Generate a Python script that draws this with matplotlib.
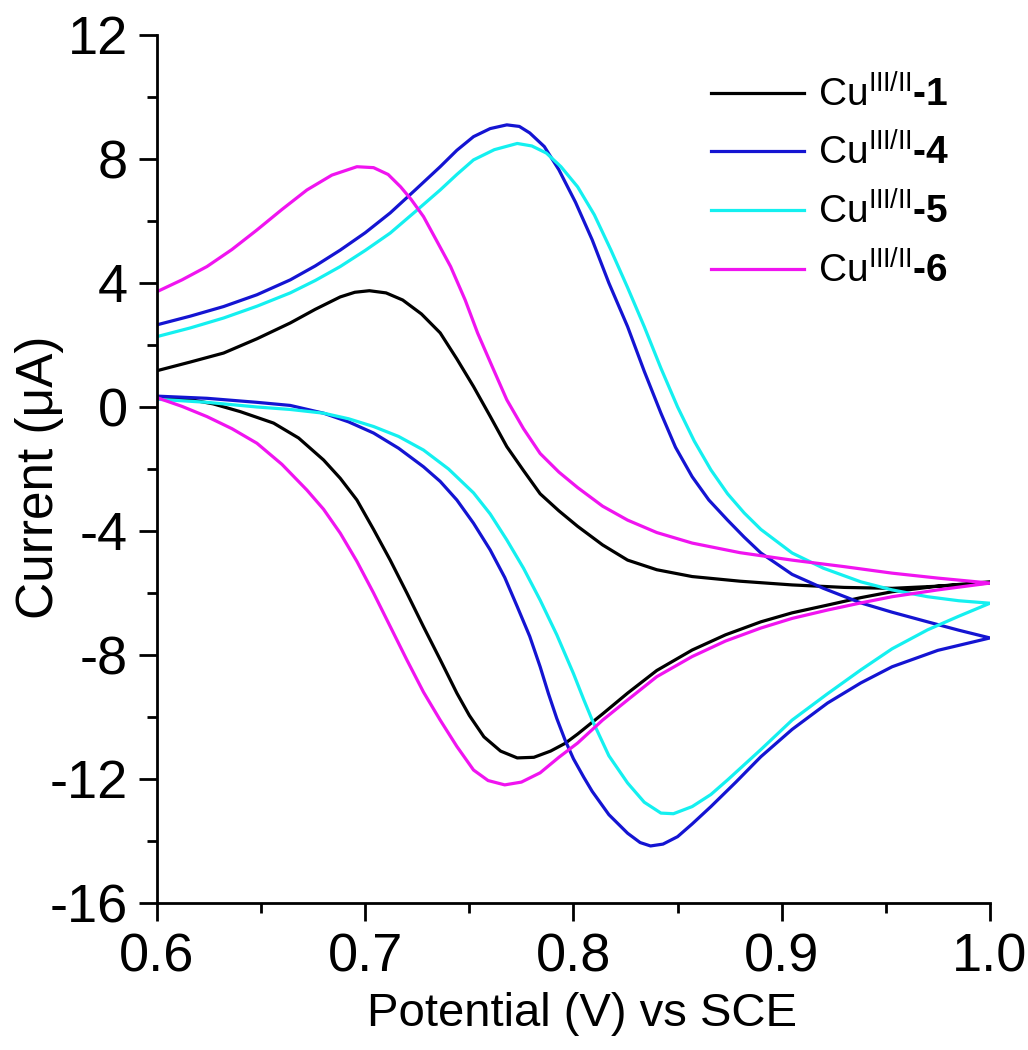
import matplotlib.pyplot as plt
from matplotlib.ticker import MultipleLocator

plt.rcParams["font.family"] = ["Liberation Sans", "DejaVu Sans"]
plt.rcParams["mathtext.fontset"] = "custom"
plt.rcParams["mathtext.rm"] = "Liberation Sans"
plt.rcParams["mathtext.bf"] = "Liberation Sans:bold"
plt.rcParams["axes.unicode_minus"] = False

# potential (V vs SCE) and current (uA)
# each CV: lower branch 0.6 -> 1.0, then upper branch 1.0 -> 0.6

# Cu(III/II)-1
v1_low = [0.600, 0.615, 0.627, 0.640, 0.656, 0.668, 0.680, 0.688, 0.696, 0.704,
          0.712, 0.720, 0.728, 0.736, 0.744, 0.750, 0.757, 0.765, 0.773, 0.781,
          0.789, 0.796, 0.802, 0.814, 0.826, 0.840, 0.857, 0.873, 0.890, 0.905,
          0.922, 0.938, 0.953, 0.975, 1.000]
i1_low = [0.30, 0.25, 0.10, -0.15, -0.52, -1.00, -1.71, -2.30, -3.00, -3.95,
          -4.94, -6.00, -7.09, -8.15, -9.23, -9.95, -10.64, -11.10, -11.32, -11.30,
          -11.10, -10.85, -10.55, -9.90, -9.23, -8.50, -7.84, -7.35, -6.93, -6.64,
          -6.39, -6.15, -5.96, -5.78, -5.64]
v1_up = [1.000, 0.975, 0.953, 0.930, 0.905, 0.880, 0.857, 0.840, 0.826, 0.814,
         0.802, 0.793, 0.784, 0.776, 0.768, 0.760, 0.752, 0.744, 0.736, 0.727,
         0.718, 0.710, 0.702, 0.695, 0.688, 0.676, 0.664, 0.648, 0.632, 0.616,
         0.600]
i1_up = [-5.68, -5.78, -5.85, -5.82, -5.74, -5.62, -5.47, -5.25, -4.94, -4.45,
         -3.85, -3.35, -2.80, -2.05, -1.28, -0.30, 0.66, 1.55, 2.39, 3.00,
         3.45, 3.68, 3.75, 3.70, 3.55, 3.15, 2.71, 2.20, 1.74, 1.45,
         1.17]

# Cu(III/II)-4
v4_low = [0.600, 0.624, 0.648, 0.664, 0.680, 0.692, 0.704, 0.716, 0.728, 0.736,
          0.744, 0.752, 0.760, 0.767, 0.773, 0.779, 0.784, 0.788, 0.792, 0.796,
          0.800, 0.805, 0.809, 0.817, 0.826, 0.832, 0.837, 0.843, 0.850, 0.857,
          0.866, 0.878, 0.890, 0.905, 0.922, 0.938, 0.953, 0.975, 1.000]
i4_low = [0.35, 0.28, 0.15, 0.05, -0.20, -0.48, -0.84, -1.33, -1.93, -2.40,
          -3.00, -3.75, -4.61, -5.50, -6.44, -7.40, -8.38, -9.25, -10.05, -10.75,
          -11.35, -11.95, -12.40, -13.15, -13.75, -14.05, -14.16, -14.10, -13.86, -13.45,
          -12.89, -12.10, -11.28, -10.40, -9.55, -8.90, -8.38, -7.85, -7.45]
v4_up = [1.000, 0.985, 0.970, 0.953, 0.938, 0.920, 0.905, 0.890, 0.882, 0.874,
         0.865, 0.857, 0.849, 0.842, 0.834, 0.826, 0.817, 0.809, 0.801, 0.793,
         0.786, 0.779, 0.774, 0.768, 0.760, 0.752, 0.744, 0.736, 0.724, 0.712,
         0.700, 0.688, 0.676, 0.664, 0.648, 0.632, 0.616, 0.600]
i4_up = [-7.45, -7.20, -6.93, -6.62, -6.32, -5.85, -5.40, -4.71, -4.20, -3.65,
         -3.00, -2.25, -1.30, -0.20, 1.15, 2.59, 4.00, 5.39, 6.60, 7.65,
         8.40, 8.84, 9.05, 9.10, 8.98, 8.72, 8.28, 7.75, 7.00, 6.26,
         5.62, 5.06, 4.55, 4.10, 3.62, 3.24, 2.93, 2.65]

# Cu(III/II)-5
v5_low = [0.600, 0.624, 0.648, 0.664, 0.680, 0.692, 0.704, 0.716, 0.728, 0.740,
          0.752, 0.760, 0.768, 0.776, 0.784, 0.792, 0.800, 0.805, 0.809, 0.817,
          0.826, 0.834, 0.842, 0.848, 0.857, 0.866, 0.874, 0.890, 0.905, 0.922,
          0.938, 0.953, 0.970, 0.985, 1.000]
i5_low = [0.25, 0.15, 0.00, -0.08, -0.20, -0.38, -0.63, -0.95, -1.39, -2.00,
          -2.77, -3.45, -4.29, -5.20, -6.23, -7.35, -8.60, -9.45, -10.10, -11.25,
          -12.13, -12.75, -13.10, -13.12, -12.89, -12.50, -12.03, -11.05, -10.10, -9.25,
          -8.48, -7.80, -7.19, -6.75, -6.33]
v5_up = [1.000, 0.985, 0.970, 0.953, 0.938, 0.920, 0.905, 0.890, 0.882, 0.874,
         0.866, 0.858, 0.850, 0.842, 0.834, 0.826, 0.818, 0.810, 0.802, 0.794,
         0.787, 0.780, 0.773, 0.762, 0.752, 0.744, 0.736, 0.724, 0.712, 0.700,
         0.688, 0.676, 0.664, 0.648, 0.632, 0.616, 0.600]
i5_up = [-6.33, -6.25, -6.12, -5.90, -5.64, -5.20, -4.71, -3.95, -3.42, -2.80,
         -2.03, -1.10, 0.00, 1.25, 2.59, 3.85, 5.06, 6.20, 7.10, 7.75,
         8.19, 8.42, 8.50, 8.30, 7.97, 7.50, 7.00, 6.30, 5.61, 5.05,
         4.53, 4.08, 3.68, 3.25, 2.87, 2.55, 2.27]

# Cu(III/II)-6
v6_low = [0.600, 0.612, 0.624, 0.636, 0.648, 0.660, 0.672, 0.680, 0.688, 0.696,
          0.704, 0.712, 0.720, 0.728, 0.736, 0.744, 0.752, 0.759, 0.767, 0.775,
          0.784, 0.793, 0.802, 0.814, 0.826, 0.840, 0.857, 0.873, 0.890, 0.905,
          0.922, 0.938, 0.953, 0.975, 1.000]
i6_low = [0.30, 0.02, -0.31, -0.70, -1.17, -1.85, -2.68, -3.30, -4.07, -4.98,
          -6.00, -7.08, -8.16, -9.20, -10.10, -10.95, -11.71, -12.05, -12.19, -12.10,
          -11.80, -11.30, -10.84, -10.10, -9.45, -8.70, -8.05, -7.55, -7.13, -6.82,
          -6.55, -6.32, -6.12, -5.90, -5.68]
v6_up = [1.000, 0.975, 0.953, 0.930, 0.905, 0.880, 0.857, 0.840, 0.826, 0.814,
         0.802, 0.793, 0.784, 0.776, 0.768, 0.761, 0.754, 0.748, 0.741, 0.734,
         0.728, 0.722, 0.717, 0.711, 0.704, 0.696, 0.684, 0.672, 0.660, 0.648,
         0.636, 0.624, 0.612, 0.600]
i6_up = [-5.68, -5.52, -5.36, -5.15, -4.94, -4.70, -4.39, -4.05, -3.65, -3.20,
         -2.60, -2.10, -1.50, -0.70, 0.23, 1.30, 2.38, 3.45, 4.53, 5.40,
         6.14, 6.70, 7.10, 7.50, 7.72, 7.75, 7.48, 7.00, 6.37, 5.71,
         5.08, 4.53, 4.10, 3.72]

labels = ["Cu$^{\\mathrm{III/II}}$$\\mathbf{\u20101}$",
          "Cu$^{\\mathrm{III/II}}$$\\mathbf{\u20104}$",
          "Cu$^{\\mathrm{III/II}}$$\\mathbf{\u20105}$",
          "Cu$^{\\mathrm{III/II}}$$\\mathbf{\u20106}$"]
colors = ["#000000", "#1414d2", "#14f0f0", "#f014f0"]

curves = [
    (v1_low + v1_up, i1_low + i1_up),
    (v4_low + v4_up, i4_low + i4_up),
    (v5_low + v5_up, i5_low + i5_up),
    (v6_low + v6_up, i6_low + i6_up),
]

fig = plt.figure(figsize=(10.28, 10.5), dpi=100)
ax = fig.add_axes([0.1527, 0.14, 0.8103, 0.8267])

for (v, i), c, lab in zip(curves, colors, labels):
    ax.plot(v, i, color=c, lw=2.3, label=lab, solid_joinstyle="round")

ax.set_xlim(0.6, 1.0)
ax.set_ylim(-16, 12)
ax.xaxis.set_major_locator(MultipleLocator(0.1))
ax.xaxis.set_minor_locator(MultipleLocator(0.05))
ax.yaxis.set_major_locator(MultipleLocator(4))
ax.yaxis.set_minor_locator(MultipleLocator(2))
ax.xaxis.set_major_formatter(lambda x, pos: f"{x:.1f}")
ax.yaxis.set_major_formatter(lambda y, pos: f"{y:.0f}")

for side in ["top", "right"]:
    ax.spines[side].set_visible(False)
for side in ["left", "bottom"]:
    ax.spines[side].set_linewidth(2)

ax.tick_params(which="major", direction="out", length=13, width=2,
               labelsize=39, pad=8)
ax.tick_params(which="minor", direction="out", length=7, width=2)

ax.set_xlabel("Potential (V) vs SCE", fontsize=34)
ax.set_ylabel("Current (\u03bcA)", fontsize=37)
ax.xaxis.set_label_coords(0.51, -0.102)
ax.yaxis.set_label_coords(-0.112, 0.49)

ax.legend(loc="upper right", frameon=False, fontsize=28,
          handlelength=2.4, handletextpad=0.35, labelspacing=0.5,
          bbox_to_anchor=(0.995, 0.996), borderaxespad=0.55)

fig.savefig("out.png", dpi=100)
